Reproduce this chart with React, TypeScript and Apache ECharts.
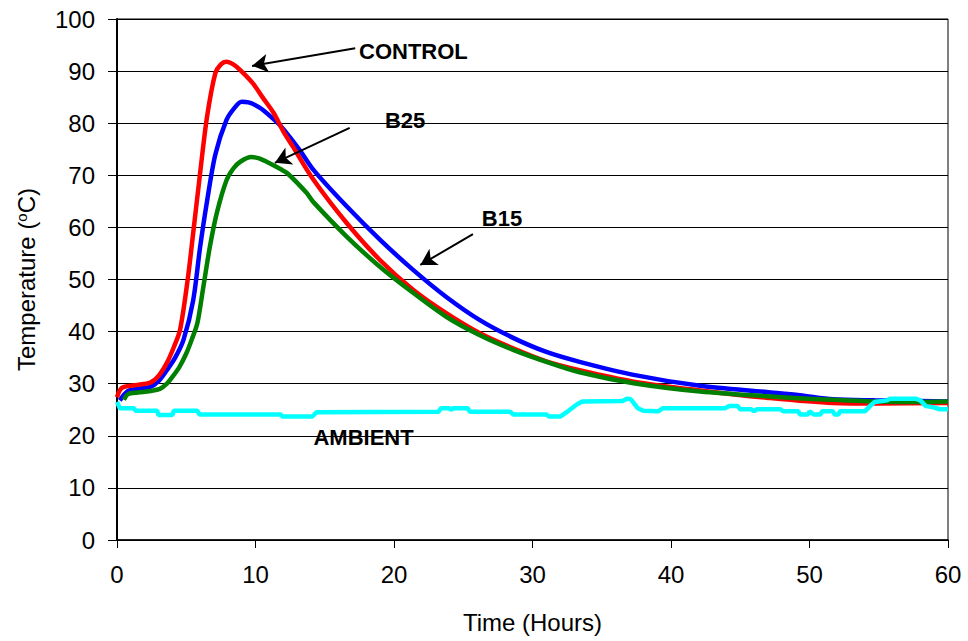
import React, { useEffect, useRef } from "react";
import * as echarts from "echarts";

// [time (h), temperature (°C)]
const controlData: number[][] = [
  [0, 27.4], [0.35, 29.2], [1.3, 29.7], [2.4, 30.2], [3.0, 31.5], [3.6, 34], [4.1, 37], [4.55, 40.3],
  [5.1, 49.9], [5.5, 58.9], [6.0, 70.4], [6.5, 81.2], [7.1, 89.6], [7.5, 91.3], [7.9, 91.8], [8.4, 91.3],
  [8.9, 90.2], [9.8, 87.7], [10.5, 85], [11.3, 82], [12.0, 78.5], [12.7, 75.5], [14.2, 69.1], [16.6, 60.8],
  [19.0, 53.7], [21.4, 48], [23.8, 43.5], [26.2, 39.7], [28.6, 36.8], [31.0, 34.3], [33.4, 32.6],
  [37.3, 30.4], [42.1, 28.7], [46.9, 27.3], [51.7, 26.3], [55, 26.2], [60, 26.3],
];

const b15Data: number[][] = [
  [0.2, 26.8], [0.8, 28.6], [1.5, 29.0], [2.4, 29.4], [3.0, 30.5], [3.6, 32.6], [4.2, 35], [4.8, 38.4],
  [5.5, 46], [6.0, 56.2], [6.5, 65], [7.1, 74], [7.9, 80.6], [8.5, 83], [9.0, 84.1], [9.5, 84],
  [10.3, 83], [11.0, 81.5], [11.8, 79.5], [13.2, 74.8], [14.2, 71], [16.6, 64], [19.0, 57.6],
  [21.4, 51.8], [23.8, 46.6], [26.2, 42.2], [28.6, 38.8], [31.0, 36.1], [33.4, 34.2], [37.3, 31.7],
  [42.1, 29.6], [46.9, 28.4], [49.3, 27.8], [51.7, 27.0], [54.7, 26.8], [60, 26.6],
];

const b25Data: number[][] = [
  [0.5, 26.9], [0.8, 28.0], [1.5, 28.3], [2.4, 28.6], [3.1, 29], [3.6, 30], [4.0, 31.3], [4.5, 33.2],
  [5.0, 35.8], [5.4, 38.5], [5.8, 41.6], [6.2, 48], [6.7, 56.2], [7.2, 62.7], [7.9, 69], [8.4, 71.3],
  [8.9, 72.6], [9.7, 73.5], [10.2, 73.3], [10.8, 72.6], [11.8, 71.2], [12.3, 70.4], [13.7, 66.6],
  [14.2, 64.8], [16.6, 58.2], [19.0, 52.4], [21.4, 47.4], [23.8, 42.8], [26.2, 39.3], [28.6, 36.5],
  [31.0, 34.2], [33.4, 32.2], [37.3, 30.1], [42.1, 28.5], [46.9, 27.6], [51.7, 26.9], [56.5, 26.5],
  [60, 26.6],
];

const ambientData: number[][] = [
  [0, 26.5], [0.2, 25.3], [1.2, 25.3], [1.35, 24.8], [2.9, 24.8], [3.0, 24.0], [4.0, 24.0], [4.1, 24.8],
  [5.8, 24.8], [5.95, 24.1], [11.8, 24.1], [11.95, 23.7], [14.1, 23.7], [14.4, 24.5], [23.2, 24.6],
  [23.4, 25.3], [24.0, 25.3], [24.1, 25.0], [24.3, 25.3], [25.3, 25.3], [25.5, 24.6], [28.4, 24.6],
  [28.6, 24.1], [31.0, 24.1], [31.2, 23.7], [32.0, 23.7], [32.6, 24.8], [33.2, 26.0], [33.6, 26.6],
  [36.5, 26.7], [36.8, 27.1], [37.1, 27.0], [37.6, 25.3], [38.0, 24.8], [39.1, 24.7], [39.4, 25.3],
  [43.9, 25.3], [44.2, 25.7], [44.8, 25.7], [45.0, 25.1], [45.8, 25.1], [46.0, 24.7], [46.2, 25.1],
  [47.9, 25.1], [48.1, 24.7], [49.2, 24.7], [49.3, 24.1], [49.9, 24.1], [50.0, 24.7], [50.3, 24.1],
  [50.8, 24.1], [50.9, 24.7], [51.7, 24.7], [51.8, 24.1], [52.1, 24.1], [52.2, 24.7], [54.0, 24.7],
  [54.4, 25.8], [54.7, 26.5], [55.6, 26.8], [55.8, 27.1], [57.7, 27.1], [58.0, 26.8], [58.4, 25.7],
  [58.9, 25.5], [59.4, 25.1], [60, 25.1],
];

const xTicks = [0, 10, 20, 30, 40, 50, 60];
const yTicks = [0, 10, 20, 30, 40, 50, 60, 70, 80, 90, 100];

const labelNames = ["CONTROL", "B25", "B15", "AMBIENT"];
const labelCoords: number[][] = [[21.4, 93.7], [20.8, 80.6], [27.8, 61.8], [17.8, 19.6]];
const arrowFrom: number[][] = [[17.2, 94.4], [16.8, 79.1], [25.7, 58.7]];
const arrowTo: number[][] = [[9.75, 91.0], [11.4, 72.4], [21.9, 52.8]];

const FONT = "'Liberation Sans', Arial, sans-serif";

export default function App() {
  const ref = useRef<HTMLDivElement>(null);
  useEffect(() => {
    if (!ref.current) return;
    const chart = echarts.init(ref.current, null, { renderer: "svg" });
    const lineSeries = (name: string, data: number[][], color: string, smooth: boolean) => ({
      name,
      type: "line",
      data,
      showSymbol: false,
      smooth: smooth ? 0.3 : false,
      lineStyle: { color, width: 4.5 },
      itemStyle: { color },
      silent: true,
    });
    const ambient: any = lineSeries("AMBIENT", ambientData, "#00FFFF", false);
    ambient.markLine = {
      silent: true,
      symbol: ["none", "arrow"],
      symbolSize: [14, 16],
      lineStyle: { color: "#000", width: 2, type: "solid" },
      label: { show: false },
      data: arrowFrom.map((f, i) => [{ coord: f }, { coord: arrowTo[i] }]),
    };
    ambient.markPoint = {
      silent: true,
      symbol: "circle",
      symbolSize: 1,
      itemStyle: { color: "rgba(0,0,0,0)" },
      label: {
        show: true,
        position: "inside",
        color: "#000",
        fontFamily: FONT,
        fontWeight: "bold",
        fontSize: 22,
        formatter: (p: any) => p.name,
      },
      data: labelNames.map((n, i) => ({ name: n, coord: labelCoords[i] })),
    };
    chart.setOption({
      animation: false,
      backgroundColor: "#fff",
      textStyle: { fontFamily: FONT },
      grid: { left: 117, right: 20, top: 19, bottom: 101, show: true, borderColor: "#000", borderWidth: 1 },
      xAxis: {
        type: "value",
        min: 0,
        max: 60,
        interval: 10,
        name: "Time (Hours)",
        nameLocation: "middle",
        nameGap: 70,
        nameTextStyle: { fontSize: 24, color: "#000", fontFamily: FONT },
        axisLine: { show: true, lineStyle: { color: "#000", width: 1.5 } },
        axisTick: { show: true, length: 8, lineStyle: { color: "#000" } },
        axisLabel: {
          color: "#000",
          fontSize: 24,
          fontFamily: FONT,
          margin: 22,
          formatter: (v: number) => (xTicks.includes(v) ? String(v) : ""),
        },
        splitLine: { show: false },
      },
      yAxis: {
        type: "value",
        min: 0,
        max: 100,
        interval: 10,
        name: "{n|Temperature (}{s|o}{n|C)}",
        nameLocation: "middle",
        nameGap: 78,
        nameRotate: 90,
        nameTextStyle: {
          color: "#000",
          fontFamily: FONT,
          rich: {
            n: { fontSize: 24, color: "#000", fontFamily: FONT },
            s: { fontSize: 15, color: "#000", fontFamily: FONT, padding: [0, 0, 10, 0] },
          },
        },
        axisLine: { show: true, lineStyle: { color: "#000", width: 2 } },
        axisTick: { show: true, length: 9, lineStyle: { color: "#000" } },
        axisLabel: {
          color: "#000",
          fontSize: 24,
          fontFamily: FONT,
          margin: 22,
          formatter: (v: number) => (yTicks.includes(v) ? String(v) : ""),
        },
        splitLine: { show: true, lineStyle: { color: "#000", width: 1 } },
      },
      series: [
        lineSeries("B15", b15Data, "#0000FF", true),
        lineSeries("CONTROL", controlData, "#FF0000", true),
        lineSeries("B25", b25Data, "#008000", true),
        ambient,
      ],
    });
    return () => chart.dispose();
  }, []);
  return (
    <div
      ref={ref}
      style={{ position: "fixed", left: 0, top: 0, width: 968, height: 641, background: "#fff" }}
    />
  );
}
